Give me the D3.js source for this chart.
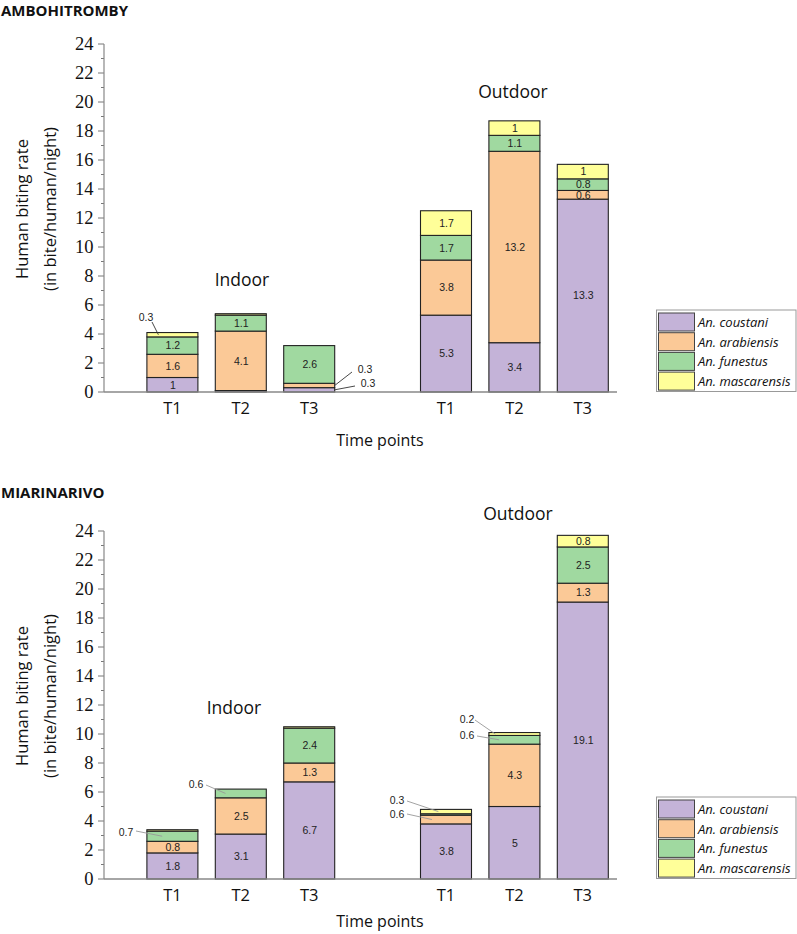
<!DOCTYPE html>
<html><head><meta charset="utf-8">
<script src="https://cdn.jsdelivr.net/npm/d3@7"></script>
<style>body{margin:0;background:#fff}svg{display:block}</style>
</head><body>
<svg id="chart" width="797" height="934"></svg>
<script>
// ---- data ----
const species = ["An. coustani", "An. arabiensis", "An. funestus", "An. mascarensis"];
const timePoints = ["T1", "T2", "T3"];
const settings = ["Indoor", "Outdoor"];
const yTicks = [0, 2, 4, 6, 8, 10, 12, 14, 16, 18, 20, 22, 24];
const sites = ["AMBOHITROMBY", "MIARINARIVO"];
// order: Indoor T1, T2, T3, Outdoor T1, T2, T3
const ambCoustani    = [1.0, 0.1, 0.3, 5.3, 3.4, 13.3];
const ambArabiensis  = [1.6, 4.1, 0.3, 3.8, 13.2, 0.6];
const ambFunestus    = [1.2, 1.1, 2.6, 1.7, 1.1, 0.8];
const ambMascarensis = [0.3, 0.1, 0.0, 1.7, 1.0, 1.0];
const miaCoustani    = [1.8, 3.1, 6.7, 3.8, 5.0, 19.1];
const miaArabiensis  = [0.8, 2.5, 1.3, 0.6, 4.3, 1.3];
const miaFunestus    = [0.7, 0.6, 2.4, 0.1, 0.6, 2.5];
const miaMascarensis = [0.1, 0.0, 0.1, 0.3, 0.2, 0.8];

const colors = ["#c4b3d8", "#fbc997", "#a0d9a0", "#ffff99"];

const svg = d3.select("#chart");
const sans = "'Open Sans', sans-serif";

function panel(site, series, y0, opts) {
  const g = svg.append("g");
  const keys = ["c", "a", "f", "m"];
  const rows = d3.range(6).map(i => ({idx: i, c: series[0][i], a: series[1][i], f: series[2][i], m: series[3][i]}));
  const stack = d3.stack().keys(keys)(rows);
  const slots = [1, 2, 3, 5, 6, 7];
  const x = d3.scaleLinear().domain([0, 7.5]).range([104, 617]);
  const y = d3.scaleLinear().domain([0, 24]).range([y0 + 348, y0]);
  const bw = 51;

  // site title
  g.append("text").attr("x", 1).attr("y", opts.titleY).text(site)
    .attr("font-family", sans).attr("font-weight", 700).attr("font-size", 15).attr("fill", "#111");

  // bars
  stack.forEach((layer, li) => {
    g.append("g").selectAll("rect").data(layer).join("rect")
      .attr("x", d => x(slots[d.data.idx]) - bw / 2)
      .attr("width", bw)
      .attr("y", d => y(d[1]))
      .attr("height", d => y(d[0]) - y(d[1]))
      .attr("fill", colors[li])
      .attr("stroke", "#222").attr("stroke-width", 1.1)
      .attr("opacity", d => d[1] - d[0] > 0 ? 1 : 0);
  });

  // inside labels
  stack.forEach((layer, li) => {
    layer.forEach(d => {
      const v = d[1] - d[0];
      const key = keys[li] + d.data.idx;
      if (v <= 0 || opts.noInside.includes(key)) return;
      g.append("text")
        .attr("x", x(slots[d.data.idx]) + 0.5)
        .attr("y", (y(d[0]) + y(d[1])) / 2 + 3.8)
        .attr("text-anchor", "middle")
        .attr("font-family", "'Liberation Sans', Arial, sans-serif")
        .attr("font-size", 10.5).attr("fill", "#222")
        .text(d3.format("~g")(v));
    });
  });

  // callouts
  opts.callouts.forEach(c => {
    const li = keys.indexOf(c.key);
    const d = stack[li][c.bar];
    const v = d[1] - d[0];
    const bx = x(slots[c.bar]) + c.ax * bw / 2;
    const by = (y(d[0]) + y(d[1])) / 2 + (c.ay || 0);
    g.append("line").attr("x1", c.lx).attr("y1", c.ly).attr("x2", bx).attr("y2", by)
      .attr("stroke", opts.leader).attr("stroke-width", 0.9);
    g.append("text").attr("x", c.tx).attr("y", c.ty)
      .attr("text-anchor", "middle")
      .attr("font-family", "'Liberation Sans', Arial, sans-serif")
      .attr("font-size", 10.5).attr("fill", "#222")
      .text(d3.format("~g")(v));
  });

  // y axis
  const minor = d3.range(0, 25, 1);
  g.append("g").selectAll("line").data(minor).join("line")
    .attr("x1", d => d % 2 === 0 ? 98 : 101).attr("x2", 104)
    .attr("y1", d => y(d)).attr("y2", d => y(d))
    .attr("stroke", "#777").attr("stroke-width", 1);
  g.append("line").attr("x1", 104).attr("x2", 104).attr("y1", y(24)).attr("y2", y(0))
    .attr("stroke", "#888").attr("stroke-width", 1.2);
  g.append("g").selectAll("text").data(yTicks).join("text")
    .attr("x", 93.5).attr("y", d => y(d) + 6)
    .attr("text-anchor", "end")
    .attr("font-family", "'Liberation Serif', 'DejaVu Serif', serif")
    .attr("font-size", 18.5).attr("fill", "#111")
    .text(d => d);

  // x axis
  g.append("line").attr("x1", 104).attr("x2", 617).attr("y1", y(0)).attr("y2", y(0))
    .attr("stroke", "#888").attr("stroke-width", 1.4);
  g.append("g").selectAll("text").data(slots).join("text")
    .attr("x", d => x(d)).attr("y", y(0) + 22)
    .attr("text-anchor", "middle")
    .attr("font-family", sans).attr("font-size", 16.5).attr("fill", "#111")
    .text((d, i) => timePoints[i % 3]);
  g.append("text").attr("x", 380).attr("y", opts.timeY).attr("text-anchor", "middle")
    .attr("font-family", sans).attr("font-size", 16).attr("fill", "#111")
    .text("Time points");

  // y title
  const cy = y0 + 174 - 9;
  g.append("text").attr("transform", `translate(28,${cy}) rotate(-90)`)
    .attr("text-anchor", "middle").attr("font-family", sans).attr("font-size", 16.5).attr("fill", "#111")
    .text("Human biting rate");
  g.append("text").attr("transform", `translate(56,${cy}) rotate(-90)`)
    .attr("text-anchor", "middle").attr("font-family", sans).attr("font-size", 16.5).attr("fill", "#111")
    .text("(in bite/human/night)");

  // setting labels
  g.append("text").attr("x", opts.indoor[0]).attr("y", opts.indoor[1]).attr("text-anchor", "middle")
    .attr("font-family", sans).attr("font-size", 17.5).attr("fill", "#111").text(settings[0]);
  g.append("text").attr("x", opts.outdoor[0]).attr("y", opts.outdoor[1]).attr("text-anchor", "middle")
    .attr("font-family", sans).attr("font-size", 17.5).attr("fill", "#111").text(settings[1]);

  // legend
  const lg = g.append("g").attr("transform", `translate(656.5,${y(0) - 82})`);
  lg.append("rect").attr("x", 0).attr("y", 0).attr("width", 139.5).attr("height", 81.5)
    .attr("fill", "#fff").attr("stroke", "#999").attr("stroke-width", 1);
  species.forEach((s, i) => {
    lg.append("rect").attr("x", 2).attr("y", 3 + i * 19.7).attr("width", 36).attr("height", 18)
      .attr("fill", colors[i]).attr("stroke", "#444").attr("stroke-width", 1);
    lg.append("text").attr("x", 41.5).attr("y", 17 + i * 19.7)
      .attr("font-family", sans).attr("font-style", "italic").attr("font-size", 13).attr("fill", "#111")
      .text(s);
  });
}

panel(sites[0], [ambCoustani, ambArabiensis, ambFunestus, ambMascarensis], 44, {
  titleY: 16, timeY: 446, indoor: [242, 286], outdoor: [513, 98], leader: "#333",
  noInside: ["c1", "m1", "m0", "a2", "c2"],
  callouts: [
    {key: "m", bar: 0, ax: -0.55, ay: 0, lx: 152, ly: 322, tx: 146, ty: 321},
    {key: "a", bar: 2, ax: 1, ay: 0, lx: 352, ly: 372, tx: 365, ty: 373},
    {key: "c", bar: 2, ax: 1, ay: 0, lx: 355, ly: 386, tx: 368, ty: 387}
  ]
});

panel(sites[1], [miaCoustani, miaArabiensis, miaFunestus, miaMascarensis], 531, {
  titleY: 498, timeY: 927, indoor: [234, 714], outdoor: [518, 520], leader: "#999",
  noInside: ["f0", "m0", "f1", "m2", "a3", "f3", "m3", "f4", "m4"],
  callouts: [
    {key: "f", bar: 0, ax: -0.4, ay: 0, lx: 136, ly: 831, tx: 126, ty: 836},
    {key: "f", bar: 1, ax: -0.6, ay: 0, lx: 206, ly: 785, tx: 196, ty: 788},
    {key: "m", bar: 3, ax: -0.3, ay: 0, lx: 407, ly: 801, tx: 397, ty: 804},
    {key: "a", bar: 3, ax: -0.55, ay: 0, lx: 407, ly: 814, tx: 397, ty: 818},
    {key: "m", bar: 4, ax: -0.75, ay: 0, lx: 475, ly: 720, tx: 467, ty: 723},
    {key: "f", bar: 4, ax: -0.6, ay: 0, lx: 477, ly: 736, tx: 467, ty: 739}
  ]
});
</script>
</body></html>
